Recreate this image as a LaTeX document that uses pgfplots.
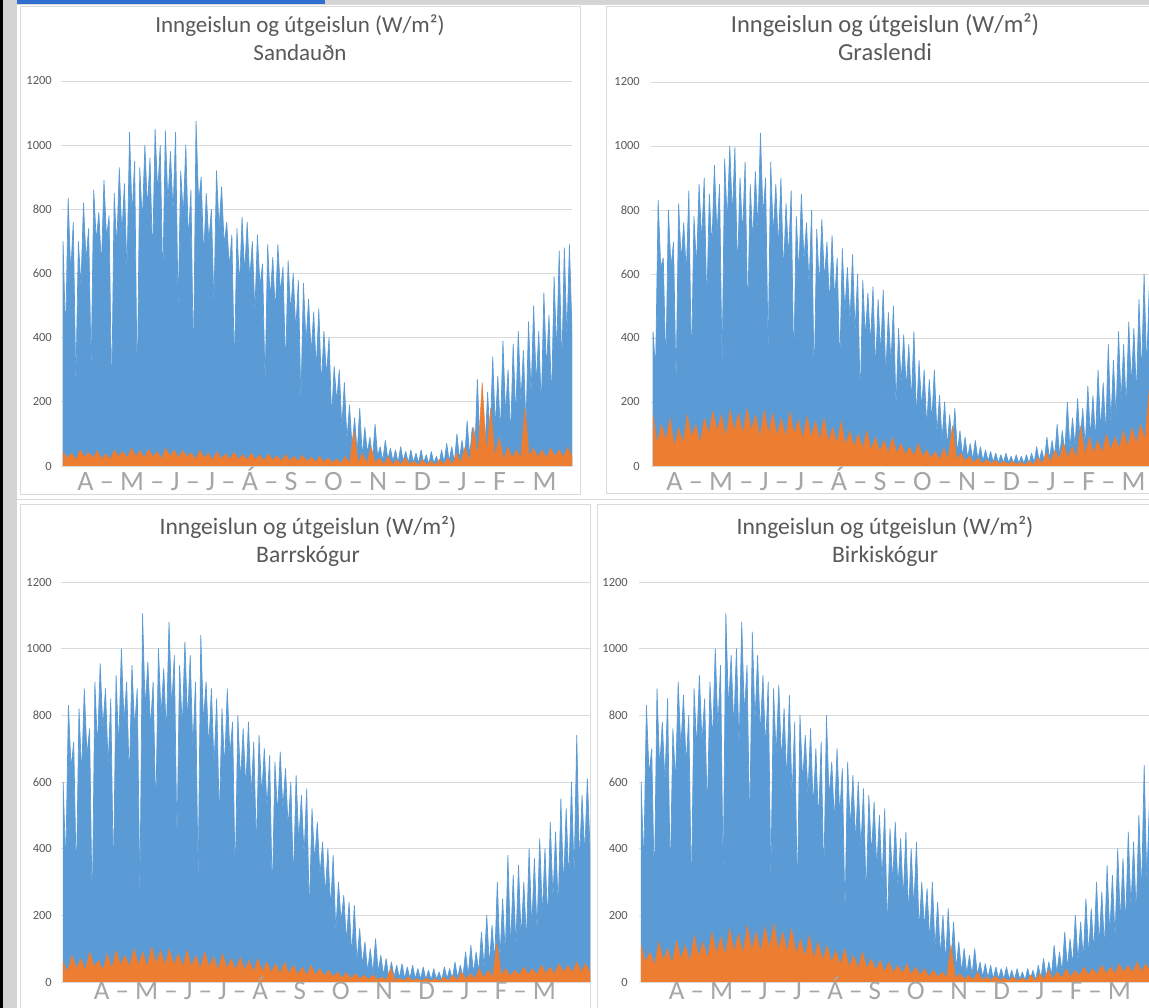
\documentclass[border=0pt]{standalone}
\usepackage{fontspec}
\setmainfont{Carlito}
\usepackage{pgfplots}
\pgfplotsset{compat=1.18}
\definecolor{bl}{HTML}{5B9BD5}
\definecolor{orng}{HTML}{ED7D31}
\definecolor{tgray}{HTML}{595959}
\definecolor{mgray}{HTML}{A6A6A6}
\definecolor{gridc}{HTML}{D9D9D9}
\definecolor{framec}{HTML}{D9D9D9}
\definecolor{sideg}{HTML}{D4D4D4}
\definecolor{topblue}{HTML}{2E6FD0}

\pgfplotsset{
  panel/.style={
    scale only axis, anchor=south west,
    xmin=-0.8, xmax=199, ymin=0, ymax=1200,
    ytick={0,200,...,1200}, xtick=\empty,
    axis line style={draw=none}, major tick length=0pt,
    ymajorgrids, grid style={gridc, line width=0.8pt},
    yticklabel style={font=\fontsize{12.5}{14}\selectfont, text=tgray, anchor=east, inner sep=0pt},
    /pgf/number format/assume math mode=true,
    /pgf/number format/1000 sep={},
  },
  blueS/.style={draw=bl, fill=bl, line width=0.7pt, line join=round},
  orS/.style={draw=orng, fill=orng, line width=0.5pt, line join=round},
}

\begin{document}
\begin{tikzpicture}[x=1pt,y=1pt]
\useasboundingbox (0,0) rectangle (1149,1008);
\clip (0,0) rectangle (1149,1008);
\fill[white] (0,0) rectangle (1149,1008);
% screenshot frame
\fill[black] (0,0) rectangle (3,1008);
\fill[sideg] (3,0) rectangle (17,1008);
\fill[sideg] (17,1004) rectangle (1149,1008);
\fill[topblue] (17,1004) rectangle (325,1008);
\draw[framec, line width=1pt] (17,1003) -- (1149,1003);
\draw[framec, line width=1pt] (17,508) -- (1149,508);
\draw[framec, line width=1pt] (20,1001) rectangle (580,513);
\draw[framec, line width=1pt] (606,1001) rectangle (1160,514);
\draw[framec, line width=1pt] (20,503) rectangle (590,-5);
\draw[framec, line width=1pt] (597,503) rectangle (1160,-5);

% ---- Sandaudn
\begin{axis}[panel, at={(61pt,542pt)}, width=511pt, height=385pt, yticklabel style={xshift=-9pt}]
\addplot[blueS] table[row sep=\\, header=false, y index=0, x expr=\coordindex] {
700\\400\\835\\600\\760\\250\\700\\560\\820\\640\\740\\300\\860\\700\\790\\620\\890\\710\\780\\200\\
850\\680\\930\\720\\880\\600\\1040\\780\\950\\220\\930\\760\\1000\\800\\960\\640\\1050\\850\\1000\\560\\
1045\\820\\980\\790\\1040\\480\\920\\780\\1000\\700\\860\\300\\1075\\820\\900\\650\\850\\700\\800\\500\\
920\\740\\870\\690\\760\\620\\720\\300\\740\\560\\775\\600\\760\\580\\700\\480\\720\\560\\630\\250\\
690\\520\\650\\480\\690\\540\\620\\300\\640\\480\\600\\420\\580\\200\\570\\380\\520\\350\\480\\300\\
490\\250\\420\\280\\400\\150\\310\\200\\300\\120\\260\\80\\190\\60\\150\\40\\180\\30\\120\\40\\
90\\20\\130\\30\\60\\15\\80\\20\\55\\15\\50\\10\\60\\15\\45\\10\\50\\10\\40\\8\\
50\\10\\35\\5\\45\\8\\30\\5\\50\\10\\70\\15\\60\\10\\100\\20\\80\\20\\140\\30\\
120\\40\\270\\60\\180\\50\\230\\80\\340\\120\\280\\100\\390\\160\\300\\90\\380\\150\\420\\200\\
360\\120\\450\\220\\500\\250\\420\\180\\540\\300\\470\\200\\590\\350\\670\\300\\680\\400\\690\\420\\
} \closedcycle;
\addplot[orS] table[row sep=\\, header=false, y index=0, x expr=\coordindex*1.67227] {
45\\25\\40\\20\\50\\28\\42\\25\\48\\22\\38\\20\\50\\30\\45\\25\\55\\30\\48\\25\\
52\\28\\45\\22\\55\\30\\50\\25\\48\\28\\42\\20\\50\\25\\40\\18\\45\\22\\38\\20\\
44\\20\\36\\18\\40\\20\\35\\15\\38\\18\\32\\15\\36\\16\\30\\15\\34\\14\\28\\12\\
30\\12\\25\\10\\22\\8\\30\\8\\110\\10\\40\\8\\60\\10\\25\\5\\30\\5\\20\\5\\
25\\5\\15\\3\\20\\4\\15\\3\\20\\5\\25\\5\\40\\10\\60\\15\\120\\30\\260\\40\\
180\\30\\90\\20\\60\\25\\50\\25\\180\\30\\55\\28\\50\\25\\55\\30\\50\\28\\58\\30\\
} \closedcycle;
\end{axis}

% ---- Graslendi
\begin{axis}[panel, at={(651pt,542pt)}, width=511pt, height=384pt, yticklabel style={xshift=-11pt}]
\addplot[blueS] table[row sep=\\, header=false, y index=0, x expr=\coordindex] {
420\\300\\830\\620\\650\\300\\800\\620\\700\\250\\820\\640\\760\\600\\860\\300\\780\\620\\880\\700\\
900\\500\\850\\680\\940\\720\\880\\300\\960\\760\\1000\\780\\995\\600\\900\\720\\950\\460\\880\\700\\
920\\740\\1040\\780\\900\\350\\950\\720\\880\\680\\900\\600\\820\\650\\860\\300\\780\\600\\850\\640\\
760\\560\\800\\250\\740\\560\\770\\580\\700\\500\\720\\520\\650\\300\\680\\480\\620\\450\\660\\420\\
600\\200\\580\\400\\540\\380\\560\\300\\520\\350\\550\\280\\480\\320\\500\\180\\430\\260\\410\\240\\
380\\200\\420\\150\\330\\180\\300\\120\\270\\140\\300\\100\\220\\80\\200\\60\\160\\50\\180\\40\\
110\\30\\90\\25\\70\\20\\80\\20\\60\\15\\50\\15\\45\\12\\40\\10\\35\\10\\40\\10\\
30\\8\\35\\8\\30\\8\\35\\8\\40\\10\\60\\15\\50\\15\\90\\20\\80\\25\\130\\30\\
110\\40\\200\\50\\150\\60\\210\\70\\180\\60\\250\\90\\220\\80\\300\\110\\260\\100\\380\\130\\
330\\150\\420\\200\\380\\180\\450\\250\\430\\220\\520\\280\\600\\300\\560\\320\\580\\330\\600\\350\\
} \closedcycle;
\addplot[orS] table[row sep=\\, header=false, y index=0, x expr=\coordindex*1.67227] {
160\\70\\130\\80\\150\\60\\120\\70\\160\\90\\130\\70\\150\\100\\170\\110\\160\\90\\175\\110\\
165\\100\\180\\110\\160\\90\\175\\100\\165\\95\\150\\90\\170\\100\\145\\85\\155\\90\\140\\80\\
150\\75\\120\\70\\140\\65\\110\\60\\100\\55\\110\\50\\90\\45\\80\\40\\90\\40\\70\\35\\
60\\30\\70\\30\\50\\25\\45\\20\\55\\20\\125\\20\\40\\15\\30\\10\\25\\8\\20\\8\\
18\\6\\15\\5\\15\\5\\12\\4\\15\\5\\25\\8\\40\\12\\50\\20\\70\\25\\60\\25\\
125\\35\\90\\40\\80\\40\\100\\50\\90\\55\\110\\60\\120\\70\\130\\80\\240\\100\\140\\90\\
} \closedcycle;
\end{axis}

% ---- Barrskogur
\begin{axis}[panel, at={(61pt,26pt)}, width=529pt, height=400pt, yticklabel style={xshift=-9pt}]
\addplot[blueS] table[row sep=\\, header=false, y index=0, x expr=\coordindex] {
600\\350\\830\\640\\720\\300\\820\\620\\880\\680\\760\\200\\900\\700\\955\\760\\880\\650\\850\\300\\
920\\700\\1000\\780\\900\\600\\950\\760\\880\\250\\1105\\820\\960\\760\\900\\500\\1000\\800\\940\\740\\
1080\\820\\980\\420\\950\\760\\1020\\780\\980\\700\\900\\300\\1040\\780\\900\\700\\880\\650\\850\\480\\
820\\640\\880\\680\\780\\300\\800\\600\\760\\580\\780\\560\\720\\400\\740\\560\\700\\520\\680\\250\\
660\\500\\690\\520\\640\\460\\600\\300\\620\\420\\560\\380\\580\\200\\520\\360\\480\\320\\420\\260\\
400\\220\\380\\150\\300\\180\\260\\120\\240\\80\\230\\60\\160\\50\\120\\30\\100\\25\\130\\30\\
80\\20\\70\\15\\60\\15\\50\\12\\55\\10\\45\\10\\50\\10\\40\\8\\45\\8\\35\\6\\
40\\8\\30\\5\\45\\10\\40\\8\\60\\12\\50\\15\\90\\20\\110\\25\\90\\30\\150\\40\\
200\\50\\170\\60\\300\\70\\250\\80\\380\\100\\320\\110\\350\\130\\300\\120\\400\\160\\370\\150\\
430\\200\\400\\180\\480\\250\\450\\220\\550\\280\\520\\300\\600\\320\\740\\350\\560\\380\\610\\400\\
} \closedcycle;
\addplot[orS] table[row sep=\\, header=false, y index=0, x expr=\coordindex*1.67227] {
60\\30\\80\\40\\70\\35\\90\\45\\65\\35\\85\\40\\95\\50\\80\\45\\100\\50\\90\\45\\
105\\55\\95\\50\\100\\50\\85\\45\\95\\45\\80\\40\\90\\45\\75\\35\\85\\40\\70\\35\\
75\\35\\65\\30\\70\\30\\60\\28\\55\\25\\60\\25\\50\\22\\45\\20\\50\\20\\40\\18\\
35\\15\\30\\12\\28\\10\\25\\10\\20\\8\\22\\6\\15\\5\\40\\5\\12\\4\\15\\4\\
10\\3\\12\\3\\10\\3\\15\\4\\20\\5\\30\\8\\25\\10\\40\\12\\35\\15\\115\\20\\
40\\18\\35\\20\\45\\22\\40\\22\\50\\25\\45\\25\\55\\28\\50\\28\\60\\30\\55\\30\\
} \closedcycle;
\end{axis}

% ---- Birkiskogur
\begin{axis}[panel, at={(639pt,26pt)}, width=529pt, height=400pt, yticklabel style={xshift=-11pt}]
\addplot[blueS] table[row sep=\\, header=false, y index=0, x expr=\coordindex] {
600\\350\\830\\620\\700\\280\\880\\640\\780\\600\\850\\300\\760\\600\\900\\700\\860\\650\\800\\250\\
880\\700\\920\\720\\850\\500\\900\\720\\1000\\760\\950\\300\\1105\\820\\980\\760\\1000\\700\\1080\\800\\
950\\450\\1050\\780\\980\\740\\920\\700\\900\\300\\880\\680\\890\\660\\820\\600\\860\\550\\780\\250\\
800\\600\\740\\560\\760\\520\\700\\480\\720\\300\\800\\550\\660\\480\\700\\500\\640\\200\\660\\460\\
620\\420\\600\\400\\580\\250\\560\\380\\540\\340\\500\\300\\520\\150\\460\\300\\480\\280\\430\\250\\
450\\200\\400\\220\\420\\150\\300\\160\\280\\120\\300\\100\\240\\80\\200\\60\\220\\50\\180\\40\\
120\\30\\100\\25\\80\\20\\100\\20\\60\\15\\55\\12\\50\\10\\45\\10\\40\\8\\45\\8\\
35\\6\\40\\8\\30\\5\\40\\8\\35\\6\\50\\10\\70\\15\\60\\20\\110\\25\\90\\30\\
150\\40\\130\\50\\200\\60\\180\\70\\250\\80\\220\\90\\300\\110\\270\\100\\350\\140\\320\\130\\
400\\180\\370\\170\\450\\220\\420\\200\\500\\260\\650\\300\\550\\320\\600\\330\\580\\340\\620\\350\\
} \closedcycle;
\addplot[orS] table[row sep=\\, header=false, y index=0, x expr=\coordindex*1.67227] {
110\\60\\90\\50\\120\\65\\100\\55\\125\\70\\110\\60\\140\\75\\120\\70\\150\\85\\135\\80\\
160\\90\\145\\85\\170\\95\\150\\90\\165\\100\\175\\95\\150\\90\\160\\85\\130\\75\\140\\70\\
120\\65\\110\\60\\95\\50\\100\\45\\80\\40\\90\\40\\70\\35\\65\\30\\60\\28\\50\\25\\
55\\22\\45\\20\\40\\15\\35\\15\\30\\12\\110\\10\\25\\8\\20\\6\\30\\6\\15\\5\\
18\\5\\12\\4\\15\\4\\12\\4\\20\\5\\25\\8\\35\\10\\30\\12\\40\\15\\35\\18\\
45\\20\\40\\22\\50\\25\\45\\25\\55\\28\\50\\28\\60\\30\\55\\30\\65\\32\\60\\32\\
} \closedcycle;
\end{axis}

% titles
\begin{scope}[every node/.style={anchor=base, text=tgray}]
\node[font=\fontsize{23}{28}\selectfont] at (300,975) {Inngeislun og útgeislun (W/m²)};
\node[font=\fontsize{23}{28}\selectfont] at (300,947) {Sandauðn};
\node[font=\fontsize{24.5}{28}\selectfont] at (885,975) {Inngeislun og útgeislun (W/m²)};
\node[font=\fontsize{24.5}{28}\selectfont] at (885,947) {Graslendi};
\node[font=\fontsize{23.6}{28}\selectfont] at (308,473) {Inngeislun og útgeislun (W/m²)};
\node[font=\fontsize{23.6}{28}\selectfont] at (308,445) {Barrskógur};
\node[font=\fontsize{23.6}{28}\selectfont] at (885,473) {Inngeislun og útgeislun (W/m²)};
\node[font=\fontsize{23.6}{28}\selectfont] at (885,445) {Birkiskógur};
\end{scope}
% month strings
\begin{scope}[every node/.style={text=mgray, inner sep=0pt, anchor=base, font=\fontsize{28}{30}\selectfont}]
\node at (317,517) {A – M – J – J – Á – S – O – N – D – J – F – M};
\node at (906,517) {A – M – J – J – Á – S – O – N – D – J – F – M};
\node[font=\fontsize{27}{30}\selectfont] at (325,8) {A – M – J – J – Á – S – O – N – D – J – F – M};
\node[font=\fontsize{27}{30}\selectfont] at (900,8) {A – M – J – J – Á – S – O – N – D – J – F – M};
\end{scope}
\end{tikzpicture}
\end{document}
